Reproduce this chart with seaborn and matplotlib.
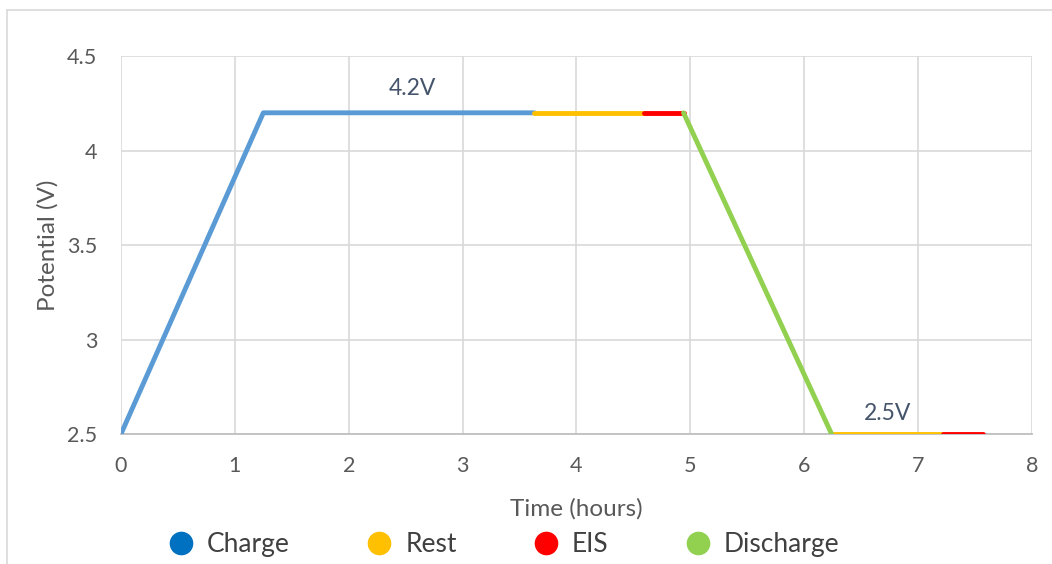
import matplotlib
matplotlib.use("Agg")
import matplotlib.pyplot as plt
from matplotlib.lines import Line2D
import pandas as pd
import seaborn as sns

# Cycling protocol: each segment is one phase of the test
segment_phase = ["Charge", "Rest", "EIS", "Discharge", "Rest", "EIS"]
segment_time = [
    [0.0, 1.25, 3.63],
    [3.63, 4.59],
    [4.59, 4.94],
    [4.94, 6.24],
    [6.24, 7.22],
    [7.22, 7.57],
]
segment_potential = [
    [2.5, 4.2, 4.2],
    [4.2, 4.2],
    [4.2, 4.2],
    [4.2, 2.5],
    [2.5, 2.5],
    [2.5, 2.5],
]

phases = ["Charge", "Rest", "EIS", "Discharge"]
line_colors = {"Charge": "#5B9BD5", "Rest": "#FFC000", "EIS": "#FF0000", "Discharge": "#92D050"}
legend_colors = {"Charge": "#0070C0", "Rest": "#FFC000", "EIS": "#FF0000", "Discharge": "#92D050"}

voltage_labels = ["4.2V", "2.5V"]
voltage_label_x = [2.56, 6.73]
voltage_label_y = [4.33, 2.61]

x_ticks = [0, 1, 2, 3, 4, 5, 6, 7, 8]
y_ticks = [2.5, 3, 3.5, 4, 4.5]

rows = []
for seg_id, (phase, ts, vs) in enumerate(zip(segment_phase, segment_time, segment_potential)):
    for t, v in zip(ts, vs):
        rows.append({"time": t, "potential": v, "phase": phase, "segment": seg_id})
df = pd.DataFrame(rows)

sns.set_theme(style="white")
plt.rcParams["font.family"] = ["Lato", "DejaVu Sans"]

fig = plt.figure(figsize=(10.52, 5.64), dpi=100)
ax = fig.add_axes([0.115, 0.2305, 0.866, 0.670])

sns.lineplot(
    data=df, x="time", y="potential", hue="phase", units="segment",
    estimator=None, sort=False, palette=line_colors, hue_order=phases,
    linewidth=3.5, legend=False, ax=ax, zorder=3,
)
for line in ax.get_lines():
    line.set_solid_capstyle("round")
    line.set_solid_joinstyle("round")

ax.set_xlim(0, 8)
ax.set_ylim(2.5, 4.5)
ax.set_xticks(x_ticks)
ax.set_xticklabels([str(t) for t in x_ticks])
ax.set_yticks(y_ticks)
ax.set_yticklabels(["2.5", "3", "3.5", "4", "4.5"])
ax.grid(True, color="#D9D9D9", linewidth=1.2)
ax.set_axisbelow(True)
for side in ["top", "right", "left"]:
    ax.spines[side].set_visible(False)
ax.spines["bottom"].set_color("#BFBFBF")
ax.spines["bottom"].set_linewidth(1.3)
ax.tick_params(axis="both", length=0, labelsize=15.5, colors="#595959")
ax.tick_params(axis="y", pad=17)
ax.tick_params(axis="x", pad=16)

ax.set_xlabel("Time (hours)", fontsize=17.5, color="#595959", labelpad=16)
ax.set_ylabel("Potential (V)", fontsize=17.5, color="#595959", labelpad=6)

for text, x, y in zip(voltage_labels, voltage_label_x, voltage_label_y):
    ax.text(x, y, text, ha="center", va="center", fontsize=16.5, color="#44546A")

handles = [
    Line2D([], [], linestyle="none", marker="o", markersize=16,
           markerfacecolor=legend_colors[p], markeredgecolor=legend_colors[p], label=p)
    for p in phases
]
fig.legend(
    handles=handles, loc="center", bbox_to_anchor=(0.4786, 0.034), ncol=4,
    frameon=False, fontsize=19, handlelength=1.0, handletextpad=0.5,
    columnspacing=2.87, labelcolor="#404040", borderpad=0.0,
)

# light outline along the top and left edges
fig.add_artist(Line2D([0.0067, 0.0067], [0.0, 0.982], transform=fig.transFigure,
                      color="#D9D9D9", linewidth=1.2))
fig.add_artist(Line2D([0.0067, 1.0], [0.982, 0.982], transform=fig.transFigure,
                      color="#D9D9D9", linewidth=1.2))

fig.savefig("out.png", dpi=100, facecolor="white")
